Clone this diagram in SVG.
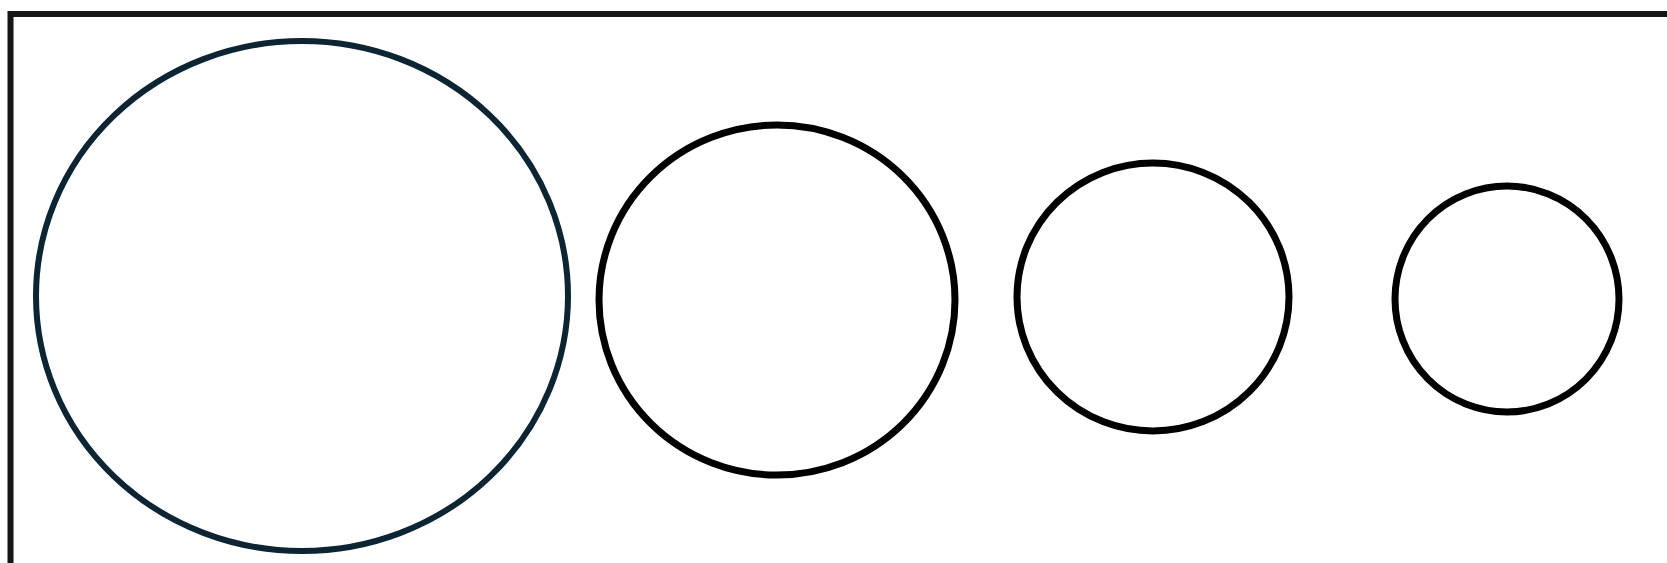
<svg xmlns="http://www.w3.org/2000/svg" width="1667" height="563" viewBox="0 0 1667 563">
  <style>
    .ring { fill: #ffffff; stroke: #000000; stroke-width: 7; }
    .frame { fill: #ffffff; stroke: #151515; stroke-width: 6; }
  </style>
  <rect x="0" y="0" width="1667" height="563" fill="#ffffff"/>
  <rect class="frame" x="10.5" y="14" width="1700" height="600"/>
  <g id="circle1"><ellipse class="ring" cx="302" cy="296" rx="266" ry="255" style="stroke:#0d2533;stroke-width:6"/></g>
  <g id="circle2"><ellipse class="ring" cx="777" cy="300" rx="178" ry="175"/></g>
  <g id="circle3"><ellipse class="ring" cx="1153" cy="297" rx="136" ry="134"/></g>
  <g id="circle4"><ellipse class="ring" cx="1507" cy="299" rx="112" ry="113"/></g>
  <g id="connectors"/>
</svg>
